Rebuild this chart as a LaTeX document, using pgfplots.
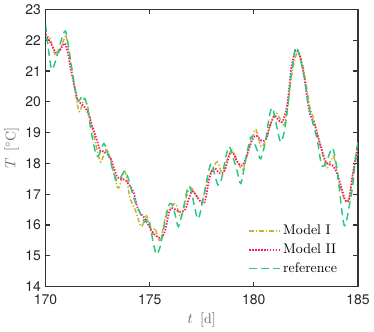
\documentclass[border=0pt]{standalone}
\usepackage{fontspec}
\usepackage{pgfplots}
\pgfplotsset{compat=1.18}
\newfontfamily\heros{TeX Gyre Heros}
\definecolor{cM1}{RGB}{205,175,50}
\definecolor{cM2}{RGB}{255,20,110}
\definecolor{cRef}{RGB}{40,200,130}
\begin{document}
\begin{tikzpicture}
\begin{axis}[
  scale only axis,
  width=235.5pt, height=209pt,
  xmin=170, xmax=185, ymin=14, ymax=23,
  xtick={170,175,180,185}, ytick={14,15,...,23},
  tick align=inside, major tick length=3.5pt,
  axis line style={line width=1pt, black!80},
  tick style={line width=0.9pt, black!80},
  /pgf/number format/assume math mode=true,
  tick label style={font=\heros\fontsize{10.5}{12}\selectfont, black!85},
  xticklabel style={yshift=-2.5pt},
  xlabel={$t\ \left[\mathrm{d}\right]$},
  ylabel={$T\ \left[{}^\circ\mathrm{C}\right]$},
  label style={font=\fontsize{10.5}{12}\selectfont, black!60},
  xlabel style={yshift=1pt},
  ylabel style={yshift=-2pt},
  legend style={draw=none, fill=none, at={(0.955,0.025)}, anchor=south east,
    font=\fontsize{10.5}{12}\selectfont, row sep=1.2pt},
  legend cell align=left,
  legend image code/.code={\draw[#1] (0cm,0cm) -- (0.8cm,0cm);},
  every axis plot/.append style={line width=1.1pt},
]
\addplot[cM1, smooth, tension=0.5, dash pattern=on 3.5pt off 1.5pt on 1pt off 1.5pt] coordinates {
(170.0,22.0) (170.2,22.1) (170.5,21.5) (170.9,22.05) (171.0,22.1) (171.3,20.9)
(171.6,19.7) (171.85,20.1) (172.0,19.9) (172.2,19.3) (172.45,18.5) (172.65,18.05)
(172.9,18.45) (173.1,18.2) (173.3,17.6) (173.5,17.2) (173.8,17.75) (174.05,16.9)
(174.3,16.5) (174.6,15.95) (174.85,16.3) (175.1,15.7) (175.25,15.9) (175.5,15.5)
(175.8,16.4) (176.0,16.55) (176.25,16.7) (176.5,16.25) (176.8,17.0) (177.0,17.2)
(177.2,17.0) (177.5,16.75) (177.75,17.4) (178.0,17.8) (178.25,18.05) (178.5,17.65)
(178.7,18.1) (178.95,18.45) (179.2,18.1) (179.45,17.8) (179.7,18.3) (179.9,18.8)
(180.1,19.1) (180.35,18.55) (180.6,18.8) (180.85,19.35) (181.05,19.65) (181.3,19.4)
(181.45,19.25) (181.6,19.7) (181.8,20.8) (182.0,21.45) (182.15,21.6) (182.35,21.2)
(182.55,20.4) (182.7,19.8) (182.9,19.4) (183.1,18.8) (183.3,18.3) (183.5,17.85)
(183.7,18.1) (183.85,18.2) (184.05,17.5) (184.25,17.0) (184.45,16.75) (184.6,16.95)
(184.8,17.8) (185.0,18.4)
};
\addlegendentry{Model I}
\addplot[cM2, smooth, tension=0.5, line width=1.3pt, dash pattern=on 1.1pt off 1.1pt] coordinates {
(170.0,22.2) (170.25,21.9) (170.5,21.6) (170.67,21.65) (170.9,21.9) (171.05,21.65)
(171.23,21.0) (171.4,20.45) (171.55,20.05) (171.78,19.9) (172.0,19.7) (172.2,19.3)
(172.47,18.75) (172.63,18.4) (172.8,18.4) (173.1,18.2) (173.26,17.9) (173.45,17.55)
(173.7,17.5) (173.85,17.45) (174.2,17.1) (174.45,16.5) (174.78,16.2) (175.1,15.8)
(175.4,15.6) (175.6,15.6) (175.75,15.85) (175.95,16.45) (176.1,16.55) (176.45,16.43)
(176.7,16.5) (176.93,16.95) (177.07,17.1) (177.4,16.8) (177.64,16.75) (177.88,17.55)
(178.1,17.85) (178.36,17.68) (178.6,17.77) (178.84,18.3) (179.0,18.35) (179.2,18.05)
(179.46,17.94) (179.7,18.35) (179.94,18.8) (180.13,18.9) (180.37,18.74) (180.6,18.8)
(180.75,19.2) (180.99,19.55) (181.13,19.45) (181.37,19.35) (181.6,19.9) (181.8,21.1)
(182.0,21.65) (182.18,21.55) (182.42,20.8) (182.66,19.7) (182.9,19.3) (183.14,18.74)
(183.46,18.05) (183.77,17.94) (184.0,17.67) (184.24,17.13) (184.4,16.8) (184.57,16.8)
(184.7,17.45) (184.95,18.42) (185.0,18.6)
};
\addlegendentry{Model II}
\addplot[cRef, smooth, tension=0.5, dash pattern=on 5.5pt off 3.5pt] coordinates {
(170.0,22.5) (170.12,21.8) (170.3,21.05) (170.55,21.5) (170.75,22.0) (170.95,22.3)
(171.1,21.8) (171.3,20.9) (171.55,20.05) (171.8,20.2) (172.0,19.85) (172.2,19.0)
(172.45,18.25) (172.65,18.4) (172.8,18.65) (173.0,18.3) (173.25,17.75) (173.42,17.45)
(173.6,17.55) (173.82,17.75) (174.0,17.45) (174.25,16.85) (174.5,16.45) (174.75,16.1)
(174.95,16.2) (175.15,15.5) (175.32,15.05) (175.5,15.3) (175.7,16.0) (175.9,16.6)
(176.05,16.7) (176.2,16.4) (176.38,15.95) (176.6,16.5) (176.85,17.25) (177.0,17.1)
(177.15,16.6) (177.33,16.2) (177.55,16.8) (177.8,17.65) (177.95,18.0) (178.1,17.7)
(178.28,17.3) (178.45,17.5) (178.65,18.2) (178.82,18.55) (179.0,18.2) (179.2,17.75)
(179.38,17.35) (179.6,18.1) (179.85,18.85) (180.0,18.7) (180.18,18.4) (180.33,18.15)
(180.55,18.7) (180.75,19.55) (180.9,19.8) (181.1,19.2) (181.28,18.7) (181.45,19.0)
(181.6,19.7) (181.8,20.9) (182.0,21.75) (182.15,21.6) (182.4,20.9) (182.6,20.0)
(182.8,19.4) (183.05,18.75) (183.25,17.95) (183.45,18.0) (183.65,18.35) (183.8,18.48)
(184.0,17.8) (184.15,16.9) (184.3,16.1) (184.4,16.0) (184.55,16.5) (184.75,17.3)
(184.9,18.3) (185.0,18.7)
};
\addlegendentry{reference}
\end{axis}
\end{tikzpicture}
\end{document}
